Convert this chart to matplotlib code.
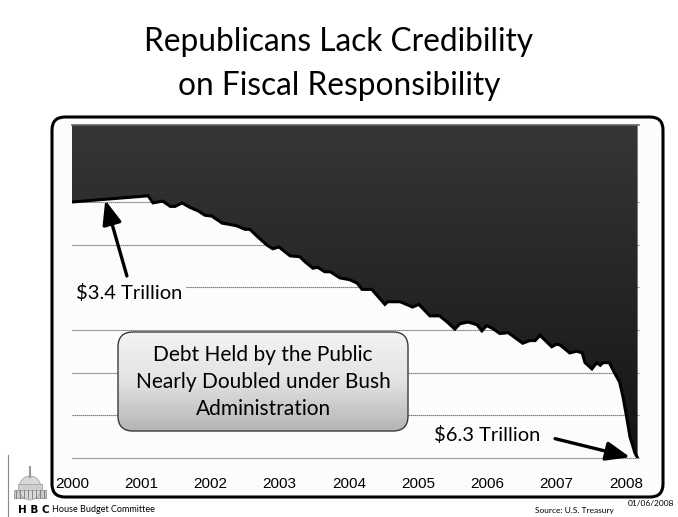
import numpy as np
import matplotlib
matplotlib.use("Agg")
import matplotlib.pyplot as plt
from matplotlib.patches import Polygon, FancyBboxPatch, Rectangle, Ellipse
from matplotlib.colors import LinearSegmentedColormap

# debt held by the public, trillions of dollars
years = [2000.00, 2001.10, 2001.17, 2001.31, 2001.42, 2001.49, 2001.59, 2001.70,
         2001.82, 2001.92, 2002.02, 2002.17, 2002.25, 2002.38, 2002.50, 2002.57,
         2002.69, 2002.82, 2002.90, 2002.99, 2003.15, 2003.29, 2003.37, 2003.48,
         2003.55, 2003.65, 2003.73, 2003.87, 2004.01, 2004.12, 2004.19, 2004.33,
         2004.52, 2004.56, 2004.74, 2004.92, 2005.01, 2005.17, 2005.31, 2005.42,
         2005.53, 2005.60, 2005.72, 2005.85, 2005.92, 2005.99, 2006.07, 2006.18,
         2006.30, 2006.37, 2006.51, 2006.61, 2006.69, 2006.76, 2006.93, 2007.00,
         2007.05, 2007.19, 2007.29, 2007.37, 2007.41, 2007.51, 2007.58, 2007.63,
         2007.67, 2007.76, 2007.84, 2007.91, 2007.96, 2008.01, 2008.06, 2008.13,
         2008.17]
debt = [3.40, 3.33, 3.41, 3.39, 3.45, 3.45, 3.41, 3.46,
        3.50, 3.55, 3.56, 3.64, 3.65, 3.67, 3.71, 3.71,
        3.80, 3.89, 3.93, 3.91, 4.01, 4.02, 4.08, 4.15,
        4.14, 4.19, 4.19, 4.26, 4.28, 4.32, 4.39, 4.39,
        4.56, 4.53, 4.53, 4.59, 4.56, 4.69, 4.69, 4.76,
        4.84, 4.78, 4.76, 4.79, 4.86, 4.80, 4.83, 4.89,
        4.88, 4.92, 5.00, 4.97, 4.97, 4.91, 5.04, 5.01,
        5.02, 5.11, 5.09, 5.11, 5.22, 5.29, 5.22, 5.25,
        5.22, 5.22, 5.34, 5.44, 5.61, 5.83, 6.06, 6.24,
        6.30]
year_ticks = [2000, 2001, 2002, 2003, 2004, 2005, 2006, 2007, 2008]
grid_vals = [3.4, 3.883, 4.367, 4.85, 5.333, 5.817, 6.3]

title = "Republicans Lack Credibility\non Fiscal Responsibility"
box_text = "Debt Held by the Public\nNearly Doubled under Bush\nAdministration"
start_label = "$3.4 Trillion"
end_label = "$6.3 Trillion"

W, H = 678, 517
fig = plt.figure(figsize=(W / 100, H / 100), dpi=100, facecolor="white")

# background layer in pixel coords (outer rounded frame)
bg = fig.add_axes([0, 0, 1, 1], zorder=0)
bg.set_xlim(0, W)
bg.set_ylim(H, 0)
bg.axis("off")
bg.add_patch(FancyBboxPatch((52, 117), 611, 380,
                            boxstyle="round,pad=0,rounding_size=13",
                            fc="#fcfcfc", ec="black", lw=2.2))

# main chart
ax = fig.add_axes([72 / W, 1 - 458 / H, 567 / W, 333 / H], zorder=1)
ax.set_facecolor("#fcfcfc")
xmin, xmax = 2000, 2008.19
ytop, ybot = 2.528, 6.3

for g in grid_vals:
    ax.axhline(g, color="#6a6a6a", lw=0.8, ls=(0, (1.2, 0.6)), zorder=1, clip_on=False)

verts = list(zip(years, debt)) + [(years[-1], ytop), (years[0], ytop)]
poly = Polygon(verts, closed=True, fc="none", ec="none", transform=ax.transData)
ax.add_patch(poly)
cmap = LinearSegmentedColormap.from_list("dark", ["#363636", "#141414"])
grad = np.linspace(0, 1, 256).reshape(-1, 1)
img = ax.imshow(grad, extent=[xmin, xmax, ybot, ytop], origin="upper",
                aspect="auto", cmap=cmap, zorder=2)
img.set_clip_path(poly)
ax.plot(years, debt, color="black", lw=2.2, zorder=3, solid_joinstyle="miter")

ax.set_xlim(xmin, xmax)
ax.set_ylim(ybot, ytop)
ax.set_xticks(year_ticks)
ax.set_xticklabels([str(y) for y in year_ticks], family="Liberation Sans", fontsize=11)
ax.tick_params(axis="x", direction="in", length=4, color="#9a9a9a",
               top=True, bottom=False, pad=13.5)
ax.set_yticks([])
for s in ["left", "right", "bottom"]:
    ax.spines[s].set_visible(False)
ax.spines["top"].set_color("#666666")
ax.spines["top"].set_linewidth(1.2)

arrow = dict(arrowstyle="-|>,head_length=1.0,head_width=0.4",
             color="black", lw=2.4, shrinkB=0)
sx = 2000.48
ax.annotate(start_label, xy=(sx, np.interp(sx, years, debt) + 0.01),
            xytext=(76, H - 293), textcoords="figure pixels",
            fontsize=14.5, family="Lato", ha="left", va="center", zorder=5,
            bbox=dict(boxstyle="square,pad=0.2", fc="#fcfcfc", ec="none"),
            arrowprops=dict(arrow, shrinkA=3, relpos=(0.5, 1)))
ax.annotate(end_label, xy=(years[-1] - 0.11, debt[-1] - 0.01),
            xytext=(487, H - 435), textcoords="figure pixels",
            fontsize=14.5, family="Lato", ha="center", va="center", zorder=5,
            arrowprops=dict(arrow, shrinkA=9, relpos=(1, 0.5)))

# overlay layer in pixel coords
ov = fig.add_axes([0, 0, 1, 1], zorder=2)
ov.set_xlim(0, W)
ov.set_ylim(H, 0)
ov.axis("off")
ov.patch.set_alpha(0)

box = FancyBboxPatch((118, 332), 290, 99, boxstyle="round,pad=0,rounding_size=15",
                     fc="none", ec="#3a3a3a", lw=1.0, zorder=4)
ov.add_patch(box)
bcmap = LinearSegmentedColormap.from_list("box", ["#f4f4f4", "#e2e2e2", "#b4b4b4"])
bimg = ov.imshow(grad, extent=[118, 408, 431, 332], origin="upper",
                 aspect="auto", cmap=bcmap, zorder=3)
bimg.set_clip_path(box)
ov.set_xlim(0, W)
ov.set_ylim(H, 0)
ov.text(263, 382, box_text, ha="center", va="center", fontsize=15,
        family="Lato", linespacing=1.42, zorder=5)

fig.text(0.5, 1 - 64 / H, title, ha="center", va="center", fontsize=22.8,
         family="Lato", linespacing=1.56)

# footer: crude capitol logo and credits
ov.plot([8, 8], [455, 517], color="#888888", lw=0.8)
ov.add_patch(Rectangle((14, 490), 32, 8, fc="#c8c8c8", ec="#888888", lw=0.5))
for cx in np.linspace(16, 44, 8):
    ov.plot([cx, cx], [490, 498], color="#777777", lw=0.6)
ov.add_patch(Ellipse((30, 488), 22, 24, fc="#d8d8d8", ec="#999999", lw=0.5))
ov.add_patch(Rectangle((18, 484), 24, 6, fc="#cfcfcf", ec="#999999", lw=0.5))
ov.plot([30, 30], [467, 477], color="#999999", lw=1.5)
ov.text(18, 510, "H B C", fontsize=7.5, fontweight="bold", family="DejaVu Sans",
        va="center", ha="left")
ov.text(52, 510, "House Budget Committee", fontsize=6.5, family="Lato",
        va="center", ha="left")
ov.text(535, 511, "Source: U.S. Treasury", fontsize=6, family="Lato",
        va="center", ha="left")
ov.text(628, 504, "01/06/2008", fontsize=6, family="Lato", va="center", ha="left")

fig.savefig("out.png", dpi=100, facecolor="white")
